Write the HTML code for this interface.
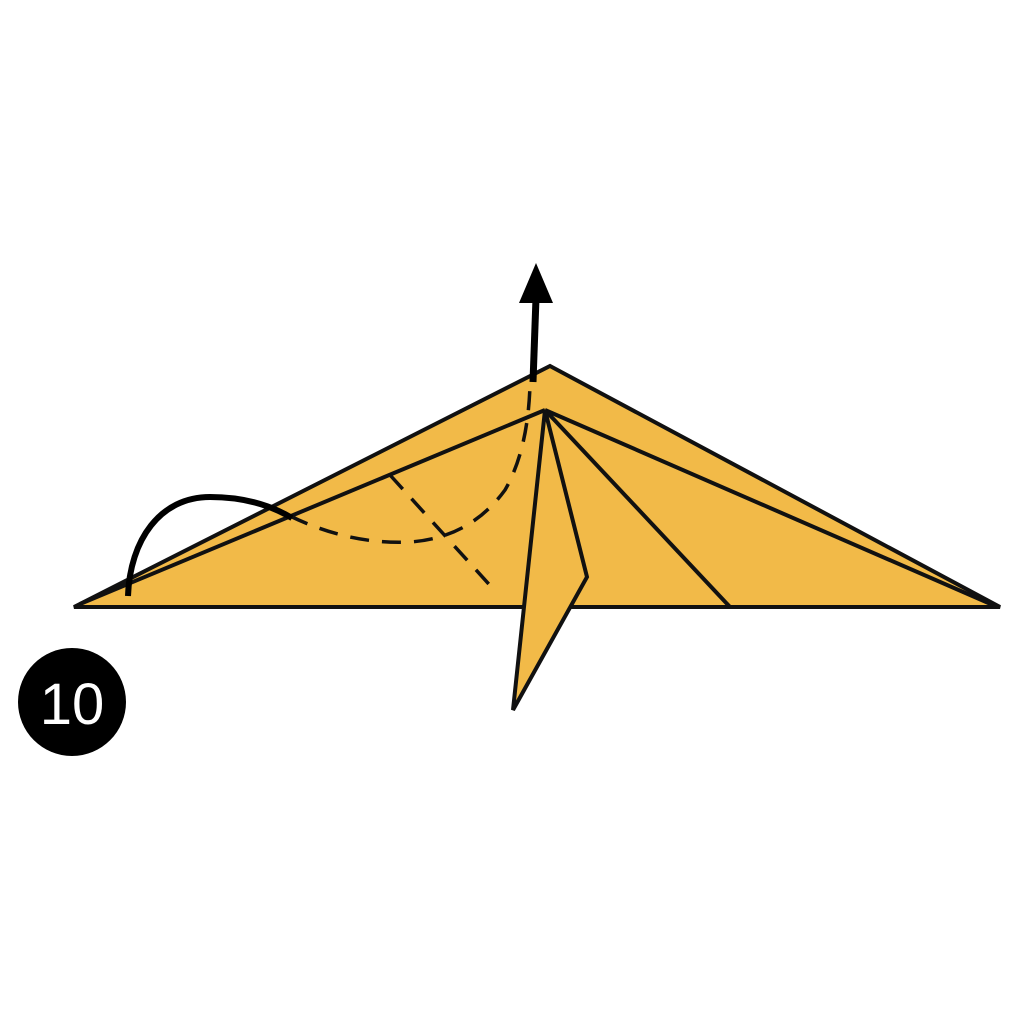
<!DOCTYPE html>
<html><head><meta charset="utf-8"><style>body{margin:0;background:#fff}svg{display:block}</style></head>
<body>
<svg width="1024" height="1024" viewBox="0 0 1024 1024">
<rect width="1024" height="1024" fill="#fff"/>
<g stroke="#111" stroke-width="4" stroke-linejoin="miter" fill="#F2BA48">
<polygon points="74,607 550,366 1000,607"/>
<line x1="80" y1="604" x2="545" y2="410" fill="none"/>
<line x1="545" y1="410" x2="993" y2="605" fill="none"/>
<line x1="545" y1="410" x2="730" y2="607" fill="none"/>
<polygon points="545,410 587,577 513,710"/>
</g>
<g fill="none" stroke="#111" stroke-width="3.5" stroke-dasharray="19,13">
<path d="M290,516 Q350,545 410,542 Q470,538 505,490 Q528,450 530,385"/>
<line x1="390" y1="475" x2="496" y2="592"/>
</g>
<path d="M128,596 C130,540 160,497 210,497 C245,497 272,506 292,518" fill="none" stroke="#000" stroke-width="6"/>
<line x1="533" y1="382" x2="536" y2="298" stroke="#000" stroke-width="7"/>
<polygon points="536,263 519,303 553,303" fill="#000"/>
<circle cx="72" cy="702" r="54" fill="#000"/>
<text x="72" y="724" text-anchor="middle" font-family="Liberation Sans, sans-serif" font-size="58" fill="#fff">10</text>
</svg>
</body></html>
